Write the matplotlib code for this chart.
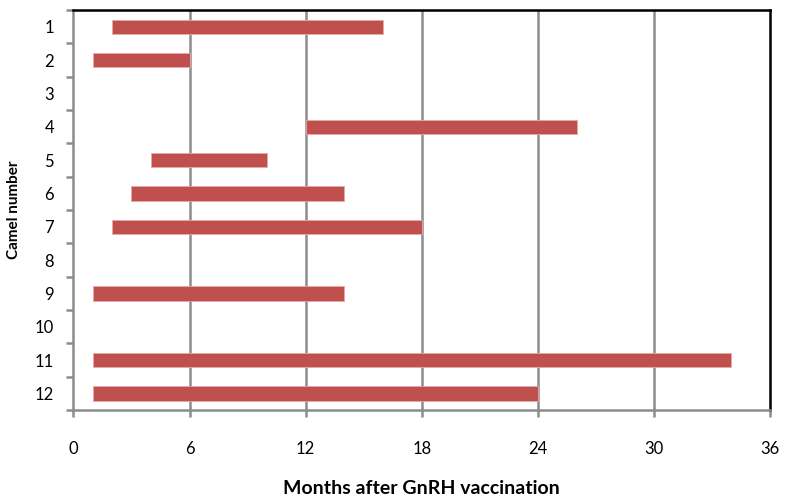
import numpy as np
import matplotlib
matplotlib.use("Agg")
import matplotlib.pyplot as plt

camels = [1, 2, 3, 4, 5, 6, 7, 8, 9, 10, 11, 12]
start = [2, 1, None, 12, 4, 3, 2, None, 1, None, 1, 1]
end = [16, 6, None, 26, 10, 14, 18, None, 14, None, 34, 24]
xticks = [0, 6, 12, 18, 24, 30, 36]

RED = "#C0504D"
GRID = "#8C8C8C"

plt.rcParams["font.family"] = ["Lato", "DejaVu Sans"]

fig = plt.figure(figsize=(7.85, 5.04), dpi=100)
ax = fig.add_axes([0.0935, 0.1865, 0.8875, 0.7935])

for i, (s, e) in enumerate(zip(start, end)):
    if s is None:
        continue
    ax.barh(i, e - s, left=s, height=0.43, color=RED, edgecolor="#E8A9A8",
            linewidth=0.6, zorder=3)

ax.set_xlim(0, 36)
ax.set_ylim(len(camels) - 0.5, -0.5)
ax.set_xticks(xticks)
ax.set_xticklabels([str(t) for t in xticks], fontsize=12)
for t in xticks[1:-1]:
    ax.axvline(t, color=GRID, lw=1.8, zorder=1)

ax.set_yticks(range(len(camels)))
ax.set_yticklabels([str(c) for c in camels], fontsize=12)
ax.set_yticks(np.arange(-0.5, len(camels), 1), minor=True)
ax.tick_params(axis="y", which="major", length=0, pad=14)
ax.tick_params(axis="y", which="minor", length=5, width=1.8, color=GRID)
ax.tick_params(axis="x", length=5, width=1.8, color=GRID, pad=17)

for side in ["left", "bottom"]:
    ax.spines[side].set_color(GRID)
    ax.spines[side].set_linewidth(1.8)
for side in ["top", "right"]:
    ax.spines[side].set_color("black")
    ax.spines[side].set_linewidth(1.8)

ax.set_xlabel("Months after GnRH vaccination", fontsize=14, fontweight="bold",
              labelpad=17)
ax.set_ylabel("Camel number", fontsize=11, fontweight="bold", labelpad=8)
ax.yaxis.set_label_coords(-0.075, 0.5)

fig.savefig("out.png", dpi=100, facecolor="white")
